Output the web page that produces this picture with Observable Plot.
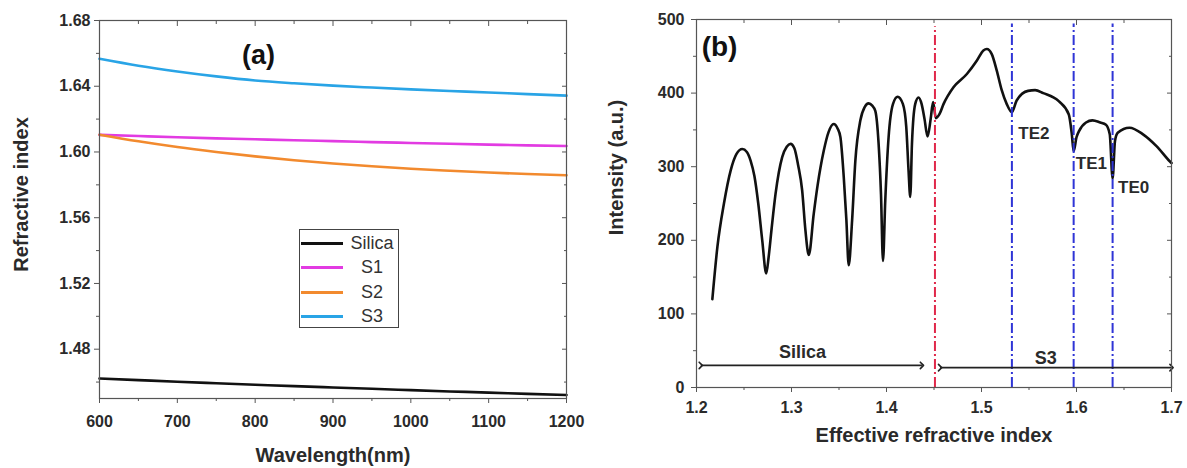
<!DOCTYPE html>
<html>
<head>
<meta charset="utf-8">
<script src="https://cdn.jsdelivr.net/npm/d3@7"></script>
<script src="https://cdn.jsdelivr.net/npm/@observablehq/plot@0.6"></script>
<style>
html,body{margin:0;padding:0;background:#fff;}
#wrap{position:relative;width:1187px;height:468px;overflow:hidden;font-family:"Liberation Sans",Arial,sans-serif;}
#pa,#pb{position:absolute;top:0;}
#pa{left:0;}
#pb{left:590px;}
#legend{position:absolute;left:299px;top:229px;width:100px;height:99px;border:1px solid #444;background:#fff;box-sizing:border-box;}
.row{position:absolute;left:0;width:100%;height:0;}
.sw{position:absolute;left:1px;width:42px;height:3px;top:-1.5px;}
.lt{position:absolute;left:44px;width:56px;text-align:center;top:-11px;font-size:18px;line-height:22px;color:#333;}
</style>
</head>
<body>
<div id="wrap">
  <div id="pa"></div>
  <div id="pb"></div>
  <div id="legend"></div>
</div>
<script>
// ---------- Panel (a) data ----------
const wavelength = [600,650,700,750,800,850,900,950,1000,1050,1100,1150,1200];
const silica = [1.4622,1.4612,1.4602,1.4593,1.4584,1.4575,1.4567,1.4559,1.4551,1.4543,1.4536,1.4528,1.4521];
const s1 = [1.6104,1.6097,1.6090,1.6083,1.6077,1.6071,1.6066,1.6060,1.6055,1.6050,1.6045,1.6040,1.6036];
const s2 = [1.6105,1.6065,1.6030,1.6000,1.5973,1.5950,1.5930,1.5913,1.5898,1.5886,1.5875,1.5866,1.5858];
const s3 = [1.6567,1.6525,1.6490,1.6460,1.6435,1.6418,1.6404,1.6392,1.6381,1.6371,1.6362,1.6352,1.6343];
const seriesNames = ["Silica","S1","S2","S3"];
const seriesColors = ["#111111","#e23be2","#f28a2e","#29a4e6"];
const xTicksA = [600,700,800,900,1000,1100,1200];
const xMinorA = [650,750,850,950,1050,1150];
const yTicksA = [1.48,1.52,1.56,1.60,1.64,1.68];
const yMinorA = [1.46,1.50,1.54,1.58,1.62,1.66];

// ---------- Panel (b) data ----------
const effIndex = [1.2167,1.2220,1.2289,1.2360,1.2420,1.2482,1.2530,1.2570,1.2610,1.2650,1.2692,1.2734,1.2760,1.2790,1.2832,1.2902,1.2950,1.2990,1.3030,1.3070,1.3112,1.3147,1.3182,1.3234,1.3275,1.3340,1.3390,1.3444,1.3485,1.3515,1.3550,1.3578,1.3602,1.3638,1.3672,1.3725,1.3770,1.3812,1.3850,1.3882,1.3917,1.3942,1.3963,1.3987,1.4022,1.4068,1.4117,1.4173,1.4208,1.4232,1.4250,1.4268,1.4302,1.4337,1.4370,1.4400,1.4432,1.4465,1.4490,1.4520,1.4560,1.4600,1.4705,1.4846,1.4950,1.5020,1.5056,1.5108,1.5160,1.5213,1.5266,1.5320,1.5370,1.5490,1.5564,1.5650,1.5813,1.5919,1.5950,1.5970,1.6000,1.6025,1.6100,1.6168,1.6250,1.6310,1.6350,1.6380,1.6405,1.6434,1.6558,1.6700,1.6842,1.6984,1.7000];
const intensity = [120,191,250,295,317,324,320,308,287,250,200,155,178,215,263,313,327,331,325,302,268,213,180,236,275,322,347,358,352,340,286,227,166,227,308,363,381,386,383,376,331,263,172,254,340,385,395,385,354,295,259,331,385,394,385,365,341,365,388,366,372,385,408,426,444,458,460,453,431,404,385,374,390,403,404,400,389,371,345,321,340,348,360,363,360,357,344,284,335,346,353,344,328,307,305];
const silicaIndexLine = [1.451];
const modeIndexLines = [1.532, 1.597, 1.638];
const modeLabels = ["TE2","TE1","TE0"];
const modeLabelX = [1.5387, 1.5993, 1.6437];
const modeLabelY = [345, 304, 272];
const regionNames = ["Silica","S3"];
const regionFrom = [1.2045, 1.4564];
const regionTo = [1.4373, 1.7];
const regionArrowY = [30, 27];
const regionLabelX = [1.3117, 1.5676];
const regionLabelY = [48, 40];
const xTicksB = [1.2,1.3,1.4,1.5,1.6,1.7];
const xMinorB = [1.25,1.35,1.45,1.55,1.65];
const yTicksB = [0,100,200,300,400,500];
const yMinorB = [50,150,250,350,450];

const font = "'Liberation Sans', Arial, sans-serif";
const textColor = "#2a2a2a";
const frameColor = "#555";

// ---------- Panel (a) ----------
const seriesValues = [silica, s1, s2, s3];
const rowsA = seriesNames.flatMap((name, k) => wavelength.map((w, i) => ({series: name, w, n: seriesValues[k][i]})));

function axesFor(xT, xM, yT, yM, fmtX, fmtY, padX, padY) {
  const blank = () => "";
  return [
    Plot.axisX(xT, {anchor: "bottom", tickSize: 5, tickPadding: padX, tickFormat: fmtX, label: null, stroke: frameColor}),
    Plot.axisX(xM, {anchor: "bottom", tickSize: 3, tickFormat: blank, label: null, stroke: frameColor}),
    Plot.axisX(xT, {anchor: "top", tickSize: -5, tickFormat: blank, label: null, stroke: frameColor}),
    Plot.axisX(xM, {anchor: "top", tickSize: -3, tickFormat: blank, label: null, stroke: frameColor}),
    Plot.axisY(yT, {anchor: "left", tickSize: 5, tickPadding: padY, tickFormat: fmtY, label: null, stroke: frameColor}),
    Plot.axisY(yM, {anchor: "left", tickSize: 3, tickFormat: blank, label: null, stroke: frameColor}),
    Plot.axisY(yT, {anchor: "right", tickSize: -5, tickFormat: blank, label: null, stroke: frameColor}),
    Plot.axisY(yM, {anchor: "right", tickSize: -3, tickFormat: blank, label: null, stroke: frameColor})
  ];
}

const centered = {textAnchor: "middle", lineAnchor: "middle"};

const plotA = Plot.plot({
  width: 600, height: 468,
  marginLeft: 99, marginRight: 34, marginTop: 20, marginBottom: 70,
  style: {fontFamily: font, fontSize: "16px", fontWeight: "bold", color: textColor, background: "transparent", overflow: "visible"},
  x: {domain: [600, 1200]},
  y: {domain: [1.45, 1.68]},
  color: {domain: seriesNames, range: seriesColors},
  marks: [
    Plot.line(rowsA, {x: "w", y: "n", z: "series", stroke: "series", strokeWidth: 2.6, curve: "monotone-x"}),
    Plot.frame({stroke: frameColor, strokeWidth: 1.2}),
    ...axesFor(xTicksA, xMinorA, yTicksA, yMinorA, d3.format("d"), d3.format(".2f"), 12, 4),
    Plot.text(["(a)"], {text: d => d, frameAnchor: "top-left", ...centered, dx: 159, dy: 35, fontSize: 27, fontWeight: "bold", fill: "#111"}),
    Plot.text(["Refractive index"], {text: d => d, frameAnchor: "left", ...centered, rotate: -90, dx: -78, dy: -15, fontSize: 20, fontWeight: "bold", fill: textColor}),
    Plot.text(["Wavelength(nm)"], {text: d => d, frameAnchor: "bottom", ...centered, dy: 57, fontSize: 20, fontWeight: "bold", fill: textColor})
  ]
});
document.getElementById("pa").appendChild(plotA);

// legend
const legend = document.getElementById("legend");
const rowTops = [13, 37, 62, 86];
seriesNames.forEach((name, k) => {
  const row = document.createElement("div");
  row.className = "row";
  row.style.top = rowTops[k] + "px";
  const sw = document.createElement("div");
  sw.className = "sw";
  sw.style.background = seriesColors[k];
  const lt = document.createElement("div");
  lt.className = "lt";
  lt.textContent = name;
  row.appendChild(sw); row.appendChild(lt);
  legend.appendChild(row);
});

// ---------- Panel (b) ----------
const curve = effIndex.map((n, i) => ({n, I: intensity[i]}));
const modes = modeLabels.map((t, i) => ({t, x: modeLabelX[i], y: modeLabelY[i]}));
const regions = regionNames.map((t, i) => ({t, from: regionFrom[i], to: regionTo[i], ay: regionArrowY[i], lx: regionLabelX[i], ly: regionLabelY[i]}));

const plotB = Plot.plot({
  width: 597, height: 468,
  marginLeft: 106, marginRight: 16, marginTop: 19, marginBottom: 81,
  style: {fontFamily: font, fontSize: "16px", fontWeight: "bold", color: textColor, background: "transparent", overflow: "visible"},
  x: {domain: [1.2, 1.7]},
  y: {domain: [0, 500]},
  marks: [
    Plot.line(curve, {x: "n", y: "I", stroke: "#111", strokeWidth: 2.6, curve: "monotone-x"}),
    Plot.ruleX(silicaIndexLine, {x: d => d, y1: 0, y2: 490, stroke: "#e0284a", strokeWidth: 2, strokeDasharray: "10,3,2,3"}),
    Plot.ruleX(modeIndexLines, {x: d => d, y1: 0, y2: 494, stroke: "#2f35d6", strokeWidth: 2, strokeDasharray: "10,3,2,3"}),
    Plot.link(regions, {x1: "from", x2: "to", y1: "ay", y2: "ay", stroke: "#222", strokeWidth: 1.6, markerStart: "arrow", markerEnd: "arrow"}),
    Plot.text(regions, {x: "lx", y: "ly", text: "t", fontSize: 18, fontWeight: "bold", fill: textColor}),
    Plot.text(modes, {x: "x", y: "y", text: "t", textAnchor: "start", fontSize: 17, fontWeight: "bold", fill: textColor}),
    Plot.frame({stroke: frameColor, strokeWidth: 1.2}),
    ...axesFor(xTicksB, xMinorB, yTicksB, yMinorB, d3.format(".1f"), d3.format("d"), 9, 7),
    Plot.text(["(b)"], {text: d => d, frameAnchor: "top-left", ...centered, dx: 23, dy: 28, fontSize: 28, fontWeight: "bold", fill: "#111"}),
    Plot.text(["Intensity (a.u.)"], {text: d => d, frameAnchor: "left", ...centered, rotate: -90, dx: -80, dy: -36, fontSize: 20, fontWeight: "bold", fill: textColor}),
    Plot.text(["Effective refractive index"], {text: d => d, frameAnchor: "bottom", ...centered, dy: 48, fontSize: 20, fontWeight: "bold", fill: textColor})
  ]
});
document.getElementById("pb").appendChild(plotB);
</script>
</body>
</html>
